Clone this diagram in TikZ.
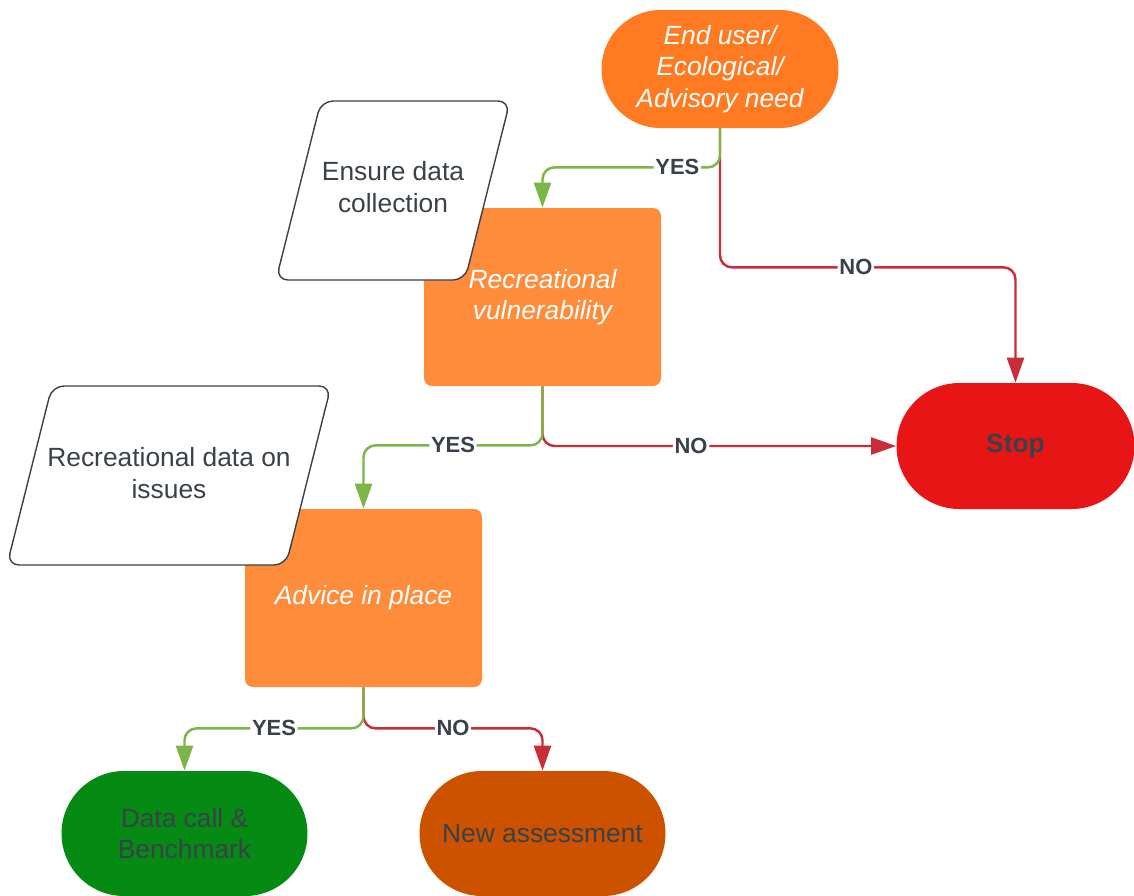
\documentclass[tikz,border=0pt]{standalone}
\usepackage{fontspec}
\setmainfont{Liberation Sans}
\usetikzlibrary{arrows.meta,shapes.misc}
\definecolor{needorange}{HTML}{FF7A21}
\definecolor{boxorange}{HTML}{FF8C3A}
\definecolor{stopred}{HTML}{E81517}
\definecolor{benchgreen}{HTML}{058A14}
\definecolor{newbrown}{HTML}{CC5200}
\definecolor{yesgreen}{HTML}{7AB648}
\definecolor{nored}{HTML}{C92D39}
\definecolor{inkgray}{HTML}{3A414A}

\tikzset{
  bodytext/.style={font=\fontsize{15}{18}\selectfont, align=center},
  pill/.style={rounded rectangle, bodytext, minimum width=4.90cm, inner sep=2pt},
  stepbox/.style={rectangle, rounded corners=0.16cm, fill=boxorange, bodytext,
                  text=white, font=\fontsize{15}{18}\selectfont\itshape,
                  minimum width=4.74cm, minimum height=3.56cm},
  intext/.style={bodytext, text=inkgray},
  inbox/.style={draw=inkgray, fill=white, line width=0.8pt, rounded corners=0.24cm},
  yesline/.style={yesgreen, line width=1.4pt, rounded corners=0.24cm,
                  -{Triangle[length=0.5cm,width=0.34cm]}},
  noline/.style={nored, line width=1.4pt, rounded corners=0.24cm,
                 -{Triangle[length=0.5cm,width=0.34cm]}},
  lab/.style={fill=white, text=inkgray, inner sep=1pt,
              font=\fontsize{12.5}{14}\selectfont\bfseries}
}

\begin{document}
\begin{tikzpicture}
    \useasboundingbox (0,0) rectangle (22.68,-17.92);

    % start and stop
    \node[pill, fill=needorange, text=white, font=\fontsize{15}{18}\selectfont\itshape,
          minimum width=4.88cm, minimum height=2.36cm] (need) at (14.40,-1.38)
          {End user/\\Ecological/\\Advisory need};
    \node[pill, fill=stopred, text=inkgray, font=\fontsize{15}{18}\selectfont\bfseries,
          minimum height=2.52cm] (stop) at (20.31,-8.92) {Stop};

    % decision steps
    \node[stepbox] (vuln) at (10.85,-5.94) {Recreational\\vulnerability};
    \node[stepbox] (advice) at (7.27,-11.96) {Advice in place};

    % data inputs (slanted boxes, lying over the steps)
    \draw[inbox] (5.52,-5.60) -- ++(3.78,0) -- ++(0.90,3.58) -- ++(-3.78,0) -- cycle;
    \node[intext] (datacol) at (7.86,-3.74) {Ensure data\\collection};
    \draw[inbox] (0.14,-11.30) -- ++(5.58,0) -- ++(0.90,3.58) -- ++(-5.58,0) -- cycle;
    \node[intext] (recdata) at (3.38,-9.46) {Recreational data on\\issues};

    % outcomes
    \node[pill, fill=benchgreen, text=inkgray, minimum width=5.06cm, minimum height=2.50cm]
          (bench) at (3.69,-16.67) {Data call \&\\Benchmark};
    \node[pill, fill=newbrown, text=inkgray, minimum width=5.06cm, minimum height=2.50cm]
          (newas) at (10.85,-16.67) {New assessment};

    % need -> vuln / stop
    \draw[noline] (need.south) -- ++(0,-2.78) -| node[lab, pos=0.23]{NO} (stop.north);
    \draw[yesline] (need.south) -- ++(0,-0.78) -| node[lab, pos=0.12]{YES} (vuln.north);

    % vuln -> advice / stop
    \draw[noline] (vuln.south) |- node[lab, pos=0.71]{NO} (stop.west);
    \draw[yesline] (vuln.south) -- ++(0,-1.18) -| node[lab, pos=0.25]{YES} (advice.north);

    % advice -> outcomes
    \draw[noline] (advice.south) -- ++(0,-0.82) -| node[lab, pos=0.25]{NO} (newas.north);
    \draw[yesline] (advice.south) -- ++(0,-0.82) -| node[lab, pos=0.25]{YES} (bench.north);
\end{tikzpicture}
\end{document}
